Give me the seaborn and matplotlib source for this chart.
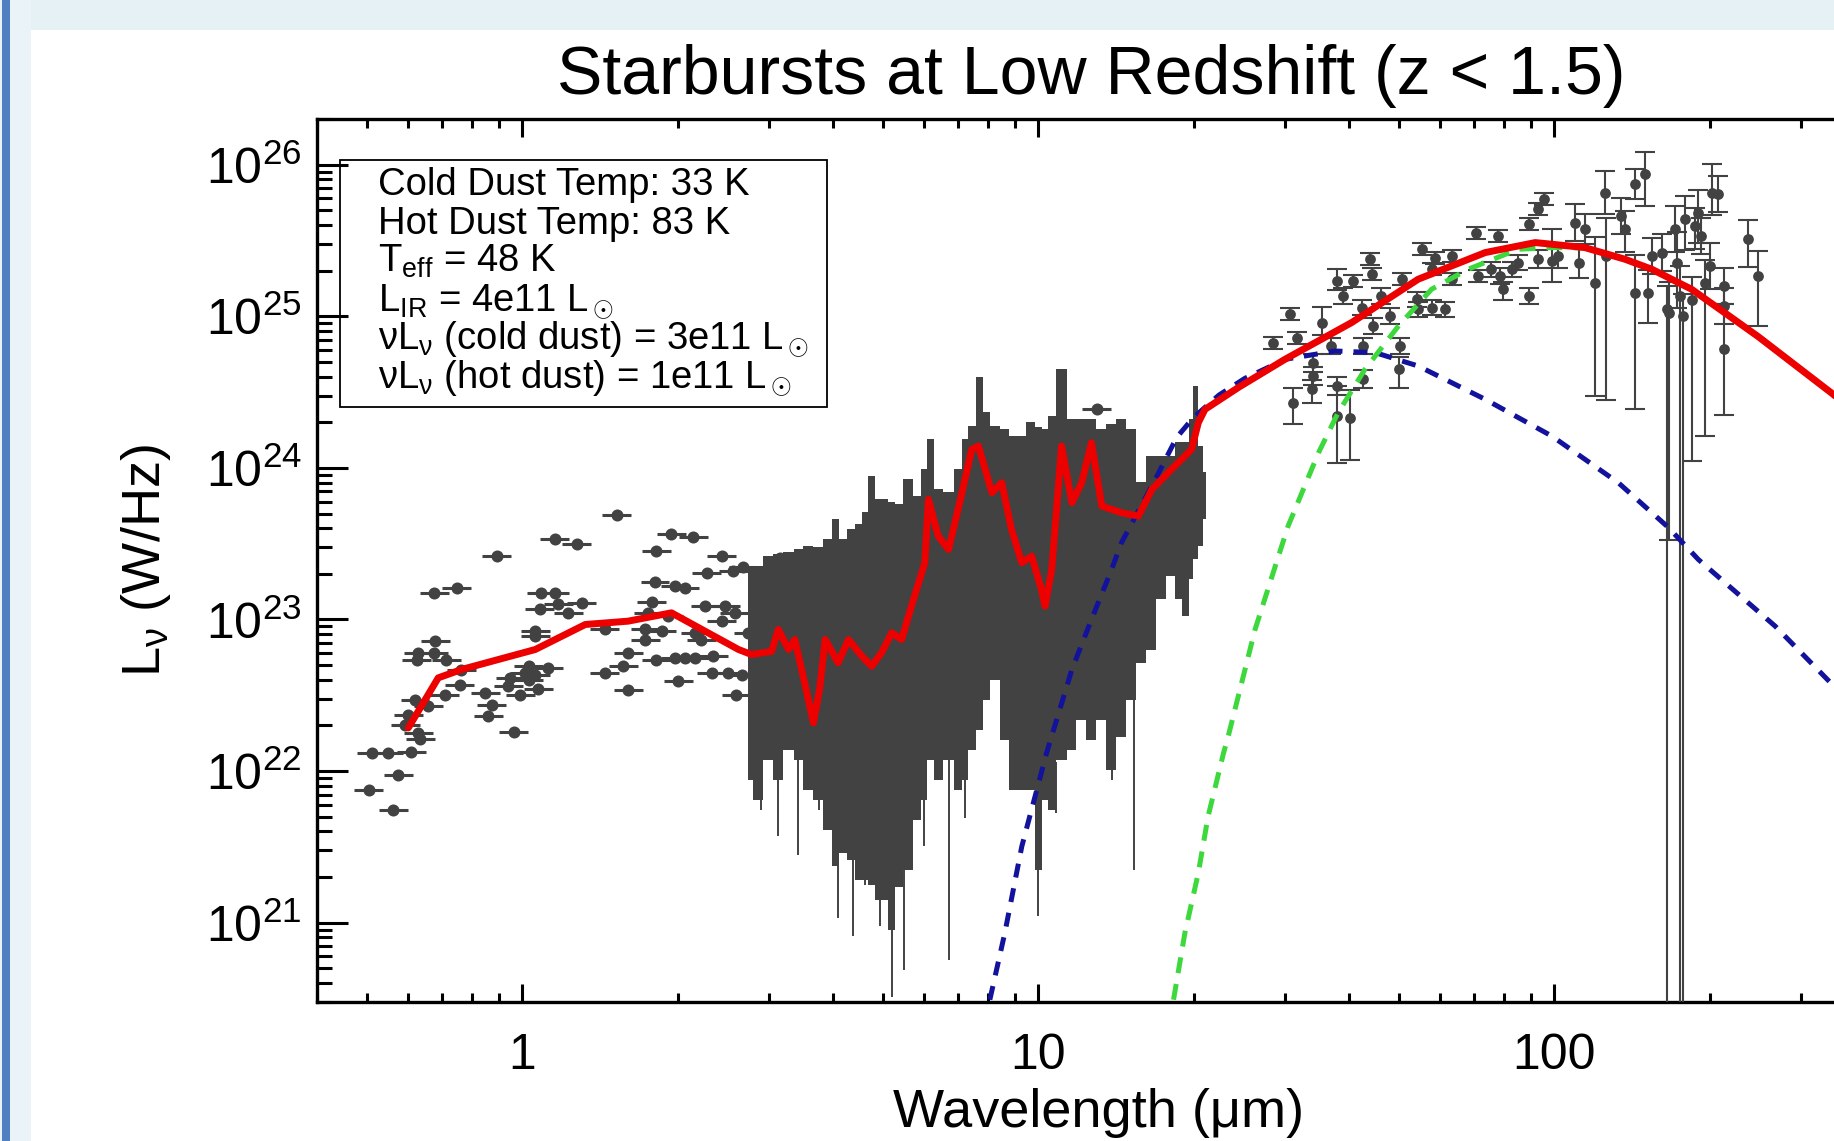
import numpy as np
import matplotlib
matplotlib.use("Agg")
import matplotlib.pyplot as plt
import seaborn as sns
from matplotlib.ticker import LogLocator, NullFormatter, FixedLocator, FixedFormatter
from matplotlib.patches import Rectangle

# ------------------------------------------------------------------
# DATA  (log10 wavelength [um], log10 L_nu [W/Hz])
# ------------------------------------------------------------------
# optical / near-IR photometry (points with horizontal bars)
nir_log_lambda = [0.183, -0.050, 0.063, 0.105, 0.289, 0.331, 0.260, 0.386, 0.357, 0.409,
                  0.428, -0.171, -0.127, 0.037, 0.063, 0.257, 0.296, 0.315, 0.034, 0.070,
                  0.115, 0.089, 0.251, 0.354, 0.393, 0.412, 0.244, 0.283, 0.386, 0.025,
                  0.025, 0.160, 0.238, 0.270, 0.238, 0.335, 0.347, 0.438, -0.169, -0.202,
                  -0.205, -0.147, -0.172, 0.012, 0.050, 0.005, 0.025, 0.205, 0.260, 0.296,
                  0.315, 0.335, 0.370, 0.196, 0.160, 0.367, 0.399, 0.425, -0.118, -0.121,
                  -0.024, -0.027, 0.012, 0.031, -0.004, -0.072, -0.150, -0.059, -0.066, 0.205,
                  0.302, 0.415, -0.208, -0.182, -0.221, -0.227, -0.202, -0.198, -0.017, -0.292,
                  -0.260, -0.215, -0.240, -0.298, -0.250, 0.499, 0.502, 0.535, 0.890, 1.113]
nir_log_L = [23.686, 23.418, 23.528, 23.495, 23.561, 23.546, 23.455, 23.418, 23.304, 23.319,
             23.345, 23.176, 23.209, 23.176, 23.176, 23.246, 23.220, 23.209, 23.071, 23.099,
             23.110, 23.044, 23.114, 23.088, 23.088, 23.044, 23.044, 23.022, 22.989, 22.923,
             22.890, 22.934, 22.934, 22.923, 22.868, 22.912, 22.868, 22.912, 22.857, 22.780,
             22.736, 22.736, 22.780, 22.692, 22.681, 22.648, 22.637, 22.780, 22.731, 22.747,
             22.747, 22.747, 22.762, 22.692, 22.648, 22.648, 22.648, 22.637, 22.670, 22.571,
             22.615, 22.560, 22.604, 22.543, 22.505, 22.516, 22.505, 22.439, 22.362, 22.538,
             22.593, 22.505, 22.472, 22.428, 22.373, 22.307, 22.252, 22.213, 22.256, 22.120,
             22.120, 22.124, 21.977, 21.878, 21.746, 23.407, 23.286, 23.275, 23.396, 24.386]
nir_xerr_dex = 0.028

# far-IR photometry (points with vertical error bars; errors in dex)
fir_log_lambda = [1.488, 1.455, 1.501, 1.494, 1.549, 1.533, 1.533, 1.530, 1.578, 1.610,
                  1.643, 1.646, 1.591, 1.627, 1.568, 1.578, 1.578, 1.604, 1.630, 1.630,
                  1.649, 1.665, 1.682, 1.704, 1.701, 1.698, 1.733, 1.736, 1.762, 1.788,
                  1.743, 1.769, 1.801, 1.762, 1.801, 1.849, 1.853, 1.891, 1.878, 1.895,
                  1.901, 1.950, 1.969, 1.979, 1.950, 1.917, 1.930, 1.969, 1.995, 2.008,
                  2.040, 2.059, 2.047, 2.098, 2.079, 2.101, 2.156, 2.176, 2.130, 2.137,
                  2.156, 2.182, 2.189, 2.208, 2.234, 2.237, 2.244, 2.222, 2.253, 2.273,
                  2.279, 2.305, 2.318, 2.302, 2.292, 2.328, 2.328, 2.328, 2.285, 2.376,
                  2.395, 2.219, 2.250, 2.266]
fir_log_L = [25.013, 24.826, 24.859, 24.430, 24.958, 24.694, 24.606, 24.518, 25.233, 25.233,
             25.376, 25.277, 25.134, 25.057, 24.804, 24.540, 24.342, 24.331, 24.804, 24.584,
             24.936, 25.134, 25.002, 25.244, 24.804, 24.650, 25.112, 25.046, 25.057, 25.046,
             25.442, 25.387, 25.398, 25.310, 25.244, 25.552, 25.266, 25.530, 25.310, 25.266,
             25.178, 25.607, 25.706, 25.772, 25.134, 25.310, 25.354, 25.376, 25.365, 25.398,
             25.618, 25.574, 25.354, 25.816, 25.222, 25.398, 25.871, 25.937, 25.662, 25.574,
             25.156, 25.156, 25.398, 25.420, 25.574, 25.354, 25.134, 25.024, 25.640, 25.596,
             25.684, 25.816, 25.805, 25.332, 25.222, 25.200, 25.068, 24.782, 25.530, 25.508,
             25.266, 25.050, 25.000, 25.110]
fir_err_up = [0.04, 0.04, 0.04, 0.10, 0.10, 0.06, 0.06, 0.06, 0.08, 0.04,
              0.04, 0.04, 0.05, 0.05, 0.05, 0.06, 0.20, 0.18, 0.05, 0.06,
              0.05, 0.05, 0.05, 0.04, 0.05, 0.08, 0.05, 0.05, 0.05, 0.05,
              0.04, 0.04, 0.04, 0.04, 0.04, 0.04, 0.04, 0.04, 0.05, 0.05,
              0.05, 0.04, 0.04, 0.04, 0.05, 0.05, 0.05, 0.06, 0.21, 0.08,
              0.12, 0.10, 0.10, 0.14, 0.30, 0.25, 0.10, 0.145, 0.12, 0.12,
              0.25, 0.15, 0.12, 0.12, 0.15, 0.20, 0.20, 0.20, 0.15, 0.12,
              0.15, 0.19, 0.12, 0.15, 0.15, 0.12, 0.12, 0.30, 0.12, 0.13,
              0.165, 0.15, 0.15, 0.15]
fir_err_dn = [0.04, 0.04, 0.04, 0.14, 0.08, 0.06, 0.06, 0.09, 0.06, 0.04,
              0.04, 0.04, 0.05, 0.05, 0.05, 0.06, 0.31, 0.28, 0.05, 0.06,
              0.05, 0.05, 0.05, 0.04, 0.05, 0.12, 0.05, 0.05, 0.05, 0.05,
              0.04, 0.04, 0.04, 0.04, 0.04, 0.04, 0.04, 0.04, 0.05, 0.05,
              0.07, 0.04, 0.04, 0.04, 0.05, 0.05, 0.05, 0.06, 0.14, 0.08,
              0.12, 0.10, 0.10, 0.14, 0.75, 0.95, 0.10, 0.21, 0.12, 0.15,
              0.77, 0.20, 0.12, 0.12, 0.15, 0.30, 5.00, 1.50, 0.20, 0.15,
              0.20, 0.15, 0.12, 0.15, 1.01, 0.12, 0.12, 0.43, 0.12, 0.185,
              0.33, 5.00, 5.00, 1.065]

# mid-IR spectra: envelope of the stacked spectra
spec_log_lambda = [0.438, 0.457, 0.477, 0.496, 0.516, 0.535, 0.554, 0.574, 0.593, 0.607,
                   0.622, 0.638, 0.651, 0.665, 0.676, 0.690, 0.703, 0.715, 0.729, 0.748,
                   0.767, 0.779, 0.791, 0.806, 0.826, 0.845, 0.859, 0.870, 0.888, 0.897,
                   0.917, 0.936, 0.952, 0.967, 0.986, 1.000, 1.014, 1.025, 1.045, 1.064,
                   1.083, 1.103, 1.122, 1.141, 1.161, 1.180, 1.200, 1.219, 1.238, 1.258,
                   1.271, 1.285, 1.297, 1.304, 1.316, 1.324]
spec_log_hi = [23.350, 23.356, 23.422, 23.429, 23.442, 23.462, 23.482, 23.475, 23.528, 23.660,
               23.528, 23.594, 23.627, 23.706, 23.944, 23.792, 23.792, 23.772, 23.759, 23.924,
               23.812, 23.990, 24.188, 23.858, 23.838, 23.990, 24.188, 24.274, 24.597, 24.366,
               24.274, 24.254, 24.208, 24.208, 24.300, 24.267, 24.254, 24.340, 24.650, 24.320,
               24.320, 24.320, 24.254, 24.287, 24.320, 24.254, 23.904, 24.076, 24.076, 24.076,
               24.168, 24.168, 24.320, 24.538, 24.142, 23.970]
spec_log_lo = [21.944, 21.812, 22.076, 21.944, 22.142, 22.076, 21.878, 21.812, 21.614, 21.376,
               21.462, 21.416, 21.284, 21.284, 21.251, 21.152, 21.152, 20.954, 21.238, 21.350,
               21.680, 21.812, 22.076, 21.944, 22.076, 21.878, 21.944, 22.142, 22.274, 22.472,
               22.604, 22.208, 21.878, 21.878, 21.878, 21.350, 21.812, 21.746, 22.076, 22.142,
               22.340, 22.208, 22.340, 22.010, 22.228, 22.472, 22.716, 22.802, 23.132, 23.284,
               23.132, 23.020, 23.264, 23.396, 23.482, 23.660]
# deep single-channel dips in the spectra
spike_log_lambda = [0.463, 0.495, 0.534, 0.574, 0.590, 0.612, 0.641, 0.664, 0.693,
                    0.717, 0.740, 0.779, 0.827, 0.858, 1.000, 1.035, 1.142, 1.186]
spike_log_bottom = [21.746, 21.570, 21.449, 21.746, 21.614, 21.031, 20.910, 21.251, 20.976,
                    20.513, 20.690, 21.504, 20.756, 21.691, 21.042, 21.724, 21.944, 21.350]

# average starburst template (red)
template_log_lambda = [-0.221, -0.163, -0.118, 0.025, 0.122, 0.205, 0.289, 0.354, 0.419, 0.444,
                       0.483, 0.496, 0.516, 0.528, 0.550, 0.564, 0.576, 0.587, 0.612, 0.632,
                       0.658, 0.677, 0.696, 0.716, 0.735, 0.758, 0.780, 0.787, 0.806, 0.826,
                       0.849, 0.871, 0.884, 0.910, 0.929, 0.948, 0.968, 0.987, 1.006, 1.013,
                       1.026, 1.045, 1.065, 1.084, 1.103, 1.123, 1.161, 1.194, 1.220, 1.258,
                       1.297, 1.310, 1.323, 1.388, 1.478, 1.607, 1.736, 1.866, 1.963, 2.059,
                       2.137, 2.189, 2.266, 2.357, 2.395, 2.539, 2.600]
template_log_L = [22.285, 22.615, 22.670, 22.802, 22.967, 22.989, 23.044, 22.923, 22.802, 22.769,
                  22.789, 22.934, 22.802, 22.868, 22.538, 22.318, 22.538, 22.868, 22.714, 22.868,
                  22.758, 22.692, 22.780, 22.912, 22.868, 23.132, 23.374, 23.792, 23.550, 23.462,
                  23.792, 24.122, 24.144, 23.836, 23.902, 23.594, 23.374, 23.418, 23.198, 23.088,
                  23.330, 24.144, 23.770, 23.902, 24.166, 23.748, 23.704, 23.682, 23.858, 23.990,
                  24.122, 24.298, 24.386, 24.531, 24.716, 24.958, 25.244, 25.420, 25.486, 25.453,
                  25.376, 25.310, 25.178, 24.958, 24.866, 24.489, 24.310]

# hot dust component (blue dashed)
hot_log_lambda = [0.906, 0.935, 0.968, 1.016, 1.065, 1.103, 1.142, 1.161, 1.226, 1.268,
                  1.300, 1.350, 1.400, 1.450, 1.478, 1.575, 1.653, 1.736, 1.866, 1.995,
                  2.124, 2.221, 2.279, 2.428, 2.539, 2.600]
hot_log_L = [20.492, 20.932, 21.504, 22.120, 22.670, 23.000, 23.330, 23.506, 23.920, 24.200,
             24.330, 24.480, 24.590, 24.670, 24.716, 24.771, 24.760, 24.672, 24.452, 24.210,
             23.902, 23.607, 23.396, 22.956, 22.570, 22.360]

# cold dust component (green dashed)
cold_log_lambda = [1.262, 1.284, 1.310, 1.329, 1.359, 1.368, 1.420, 1.484, 1.543, 1.581,
                   1.633, 1.698, 1.762, 1.833, 1.930, 1.995, 2.059, 2.137, 2.189, 2.266,
                   2.357, 2.395, 2.539, 2.600]
cold_log_L = [20.492, 20.932, 21.328, 21.702, 22.120, 22.230, 22.934, 23.616, 24.100, 24.364,
              24.650, 24.936, 25.178, 25.310, 25.442, 25.453, 25.451, 25.374, 25.308, 25.176,
              24.956, 24.864, 24.487, 24.308]

x_tick_values = [1, 10, 100]
x_tick_labels = ["1", "10", "100"]
y_tick_exponents = [21, 22, 23, 24, 25, 26]

title_text = "Starbursts at Low Redshift (z < 1.5)"
x_label = "Wavelength (\u03bcm)"
y_label = r"L$_\mathrm{\nu}$ (W/Hz)"
box_lines = ["Cold Dust Temp: 33 K",
             "Hot Dust Temp: 83 K",
             r"T$_{\rm eff}$ = 48 K",
             r"L$_{\rm IR}$ = 4e11 L$_\odot$",
             r"$\mathrm{\nu}$L$_\mathrm{\nu}$ (cold dust) = 3e11 L$_\odot$",
             r"$\mathrm{\nu}$L$_\mathrm{\nu}$ (hot dust) = 1e11 L$_\odot$"]

# ------------------------------------------------------------------
# STYLE
# ------------------------------------------------------------------
sns.set_theme(style="ticks")
plt.rcParams.update({
    "font.family": ["Liberation Sans", "DejaVu Sans"],
    "mathtext.fontset": "custom",
    "mathtext.rm": "Liberation Sans",
    "mathtext.it": "Liberation Sans:italic",
    "mathtext.bf": "Liberation Sans:bold",
    "mathtext.sf": "Liberation Sans",
    "text.color": "black",
    "axes.labelcolor": "black",
})

GRAY = "#424242"
RED = "#ec0000"
BLUE = "#12129c"
GREEN = "#3cd83c"

W, H = 1834, 1141
fig = plt.figure(figsize=(W / 100, H / 100), dpi=100)
fig.patch.set_facecolor("white")
# screenshot frame (light top band, blue left edge)
fig.add_artist(Rectangle((0, 1 - 30 / H), 1, 30 / H, transform=fig.transFigure,
                         facecolor="#e6f1f5", edgecolor="none", zorder=0))
fig.add_artist(Rectangle((0, 0), 31 / W, 1, transform=fig.transFigure,
                         facecolor="#eaf3f7", edgecolor="none", zorder=0))
fig.add_artist(Rectangle((2 / W, 0), 8 / W, 1, transform=fig.transFigure,
                         facecolor="#4f80c2", edgecolor="none", zorder=0))

ax = fig.add_axes([317 / W, 139 / H, 1548 / W, 883 / H])
ax.set_facecolor("white")
ax.set_xscale("log")
ax.set_yscale("log")

def lin(a):
    return 10.0 ** np.asarray(a, dtype=float)

# spectra band
ax.fill_between(lin(spec_log_lambda), lin(spec_log_lo), lin(spec_log_hi),
                step="mid", color=GRAY, linewidth=0, zorder=2)
spike_top = np.interp(spike_log_lambda, spec_log_lambda, spec_log_lo) + 0.15
ax.vlines(lin(spike_log_lambda), lin(spike_log_bottom), lin(spike_top),
          colors=GRAY, linewidth=1.4, zorder=2)

# near-IR photometry
nx, ny = lin(nir_log_lambda), lin(nir_log_L)
ax.errorbar(nx, ny, xerr=[nx - nx * 10 ** (-nir_xerr_dex), nx * 10 ** nir_xerr_dex - nx],
            fmt="none", ecolor=GRAY, elinewidth=2.2, capsize=0, zorder=3)
sns.scatterplot(x=nx, y=ny, ax=ax, color=GRAY, s=75, linewidth=0, zorder=3)

# far-IR photometry
fx, fy = lin(fir_log_lambda), lin(fir_log_L)
flo = lin(np.asarray(fir_log_L) - np.asarray(fir_err_dn))
fhi = lin(np.asarray(fir_log_L) + np.asarray(fir_err_up))
ax.errorbar(fx, fy, yerr=[fy - flo, fhi - fy], fmt="none", ecolor=GRAY,
            elinewidth=1.5, capsize=7, capthick=1.5, zorder=3)
sns.scatterplot(x=fx, y=fy, ax=ax, color=GRAY, s=60, linewidth=0, zorder=3)

# model components
sns.lineplot(x=lin(hot_log_lambda), y=lin(hot_log_L), ax=ax, color=BLUE,
             linewidth=3.6, sort=False, estimator=None, zorder=4)
ax.lines[-1].set_dashes([2.8, 2.2])
sns.lineplot(x=lin(cold_log_lambda), y=lin(cold_log_L), ax=ax, color=GREEN,
             linewidth=3.6, sort=False, estimator=None, zorder=4)
ax.lines[-1].set_dashes([3.2, 2.2])
sns.lineplot(x=lin(template_log_lambda), y=lin(template_log_L), ax=ax, color=RED,
             linewidth=5.0, sort=False, estimator=None, zorder=5)

ax.set_xlim(0.4, 400)
ax.set_ylim(3e20, 2e26)

# ticks
ax.xaxis.set_major_locator(FixedLocator(x_tick_values))
ax.xaxis.set_major_formatter(FixedFormatter(x_tick_labels))
ax.xaxis.set_minor_locator(LogLocator(base=10, subs=np.arange(2, 10), numticks=50))
ax.xaxis.set_minor_formatter(NullFormatter())
ax.yaxis.set_major_locator(FixedLocator([10.0 ** e for e in y_tick_exponents]))
ax.yaxis.set_major_formatter(FixedFormatter([r"$10^{%d}$" % e for e in y_tick_exponents]))
ax.yaxis.set_minor_locator(LogLocator(base=10, subs=np.arange(2, 10), numticks=50))
ax.yaxis.set_minor_formatter(NullFormatter())
ax.tick_params(which="both", direction="in", top=True, right=True,
               color="black", labelcolor="black", width=2.2)
ax.tick_params(axis="y", which="major", length=22, pad=11, labelsize=36)
ax.tick_params(axis="y", which="minor", length=11)
ax.tick_params(axis="x", which="major", length=13, pad=22, labelsize=36)
ax.tick_params(axis="x", which="minor", length=6.5)
for sp in ax.spines.values():
    sp.set_linewidth(2.4)
    sp.set_color("black")

ax.set_xlabel(x_label, fontsize=39)
ax.xaxis.set_label_coords(0.505, -0.097)
ax.set_ylabel(y_label, fontsize=39)
ax.yaxis.set_label_coords(-0.093, 0.5)
ax.set_title(title_text, fontsize=49, pad=18.0)

# parameter box
ax.add_patch(Rectangle((0.0149, 0.6738), 0.3146, 0.2798, transform=ax.transAxes,
                       fill=False, edgecolor="black", linewidth=1.3, zorder=6))
box_baselines = [0.9139, 0.8703, 0.8267, 0.7831, 0.7395, 0.6959]
for txt, yb in zip(box_lines, box_baselines):
    ax.text(0.0394, yb, txt, transform=ax.transAxes, fontsize=27.5,
            va="baseline", ha="left", color="black", zorder=7)

fig.savefig("out.png", dpi=100)
